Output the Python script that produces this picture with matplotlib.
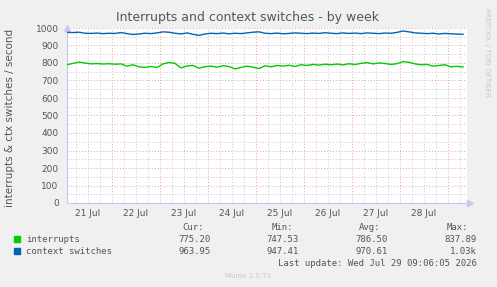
import numpy as np
import matplotlib
matplotlib.use("Agg")
import matplotlib.pyplot as plt

# data: one sample every 3 hours, starting 21 Jul 01:30
start_hour = 1.5
step_hours = 3
interrupts = [790, 798, 805, 800, 795, 797, 794, 796, 793, 795, 782, 790, 778, 775,
              780, 774, 795, 803, 798, 772, 783, 786, 770, 779, 782, 776, 784, 780,
              766, 775, 782, 776, 768, 784, 778, 786, 782, 787, 780, 790, 786, 792,
              788, 793, 790, 794, 789, 796, 791, 798, 802, 795, 800, 797, 792, 796,
              808, 804, 795, 790, 792, 782, 786, 790, 778, 781, 777]
ctx_switches = [975, 974, 976, 970, 969, 971, 968, 970, 969, 974, 968, 963, 966, 970,
                968, 972, 978, 976, 970, 966, 972, 964, 958, 966, 970, 968, 971, 967,
                970, 968, 972, 976, 978, 970, 968, 971, 967, 969, 972, 970, 968, 971,
                969, 973, 970, 968, 972, 969, 971, 968, 972, 970, 968, 971, 970, 975,
                983, 978, 972, 970, 968, 970, 966, 969, 967, 965, 964]
day_labels = ["21 Jul", "22 Jul", "23 Jul", "24 Jul", "25 Jul", "26 Jul", "27 Jul", "28 Jul"]
series_names = ["interrupts", "context switches"]
series_colors = ["#00CC00", "#0066B3"]
cur_vals = ["775.20", "963.95"]
min_vals = ["747.53", "947.41"]
avg_vals = ["786.50", "970.61"]
max_vals = ["837.89", "1.03k"]

hours = start_hour + step_hours * np.arange(len(interrupts))
x_min, x_max = 1.5, 201.5

W, H = 497, 287
fig = plt.figure(figsize=(W / 100, H / 100), dpi=100, facecolor="#F0F0F0")
ax = fig.add_axes([67 / W, (H - 203) / H, 400 / W, 175 / H])
ax.set_facecolor("white")

# grid: red dotted for days / hundreds, grey dotted for the rest
for h in np.arange(0, x_max, 6):
    if h < x_min:
        continue
    col = "#F0A0A0" if h % 24 == 0 else "#C8C8C8"
    ax.axvline(h, color=col, lw=0.7, ls=(0, (1, 2)), zorder=1)
for v in range(50, 1001, 50):
    col = "#F0A0A0" if v % 100 == 0 else "#C8C8C8"
    ax.axhline(v, color=col, lw=0.7, ls=(0, (1, 2)), zorder=1)

ax.plot(hours, interrupts, color=series_colors[0], lw=1.0, zorder=3)
ax.plot(hours, ctx_switches, color=series_colors[1], lw=1.0, zorder=3)

ax.set_xlim(x_min, x_max)
ax.set_ylim(0, 1000)
ax.set_xticks([12 + 24 * i for i in range(len(day_labels))])
ax.set_xticklabels(day_labels)
ax.set_yticks(range(0, 1001, 100))
ax.tick_params(axis="both", labelsize=6.5, colors="#555555", length=0, pad=4)
ax.tick_params(axis="y", pad=6)
for s in ["top", "right"]:
    ax.spines[s].set_visible(False)
for s in ["left", "bottom"]:
    ax.spines[s].set_color("#C8C8F0")
    ax.spines[s].set_linewidth(0.8)
ax.plot([x_min], [1000], marker="^", color="#C8C8F0", ms=4, clip_on=False)
ax.plot([x_max + 1.5], [0], marker=">", color="#C8C8F0", ms=4, clip_on=False)

fig.text(248 / W, 1 - 18 / H, "Interrupts and context switches - by week",
         ha="center", va="center", fontsize=9, color="#555555")
fig.text(10 / W, 1 - 118 / H, "interrupts & ctx switches / second", rotation=90,
         ha="center", va="center", fontsize=7.5, color="#555555")
fig.text(487 / W, 1 - 52 / H, "RRDTOOL / TOBI OETIKER", rotation=270,
         ha="center", va="center", fontsize=5, color="#C8C8C8")

mono = "DejaVu Sans Mono"
fs = 6.5
tc = "#555555"
for x, lab in [(204, "Cur:"), (293, "Min:"), (380, "Avg:"), (468, "Max:")]:
    fig.text(x / W, 1 - 228 / H, lab, ha="right", va="center", fontsize=fs, family=mono, color=tc)
rows_y = [239, 251]
for i in range(2):
    y = 1 - rows_y[i] / H
    fig.patches.append(plt.Rectangle((14 / W, y - 3 / H), 6 / W, 6 / H,
                                     transform=fig.transFigure, color=series_colors[i]))
    fig.text(26 / W, y, series_names[i], ha="left", va="center", fontsize=fs, family=mono, color=tc)
    fig.text(211 / W, y, cur_vals[i], ha="right", va="center", fontsize=fs, family=mono, color=tc)
    fig.text(299 / W, y, min_vals[i], ha="right", va="center", fontsize=fs, family=mono, color=tc)
    fig.text(388 / W, y, avg_vals[i], ha="right", va="center", fontsize=fs, family=mono, color=tc)
    fig.text(477 / W, y, max_vals[i], ha="right", va="center", fontsize=fs, family=mono, color=tc)
fig.text(477 / W, 1 - 263 / H, "Last update: Wed Jul 29 09:06:05 2026", ha="right", va="center",
         fontsize=fs, family=mono, color=tc)
fig.text(248 / W, 1 - 276 / H, "Munin 2.0.73", ha="center", va="center", fontsize=5, color="#C8C8C8")

fig.savefig("out.png", dpi=100, facecolor=fig.get_facecolor())
